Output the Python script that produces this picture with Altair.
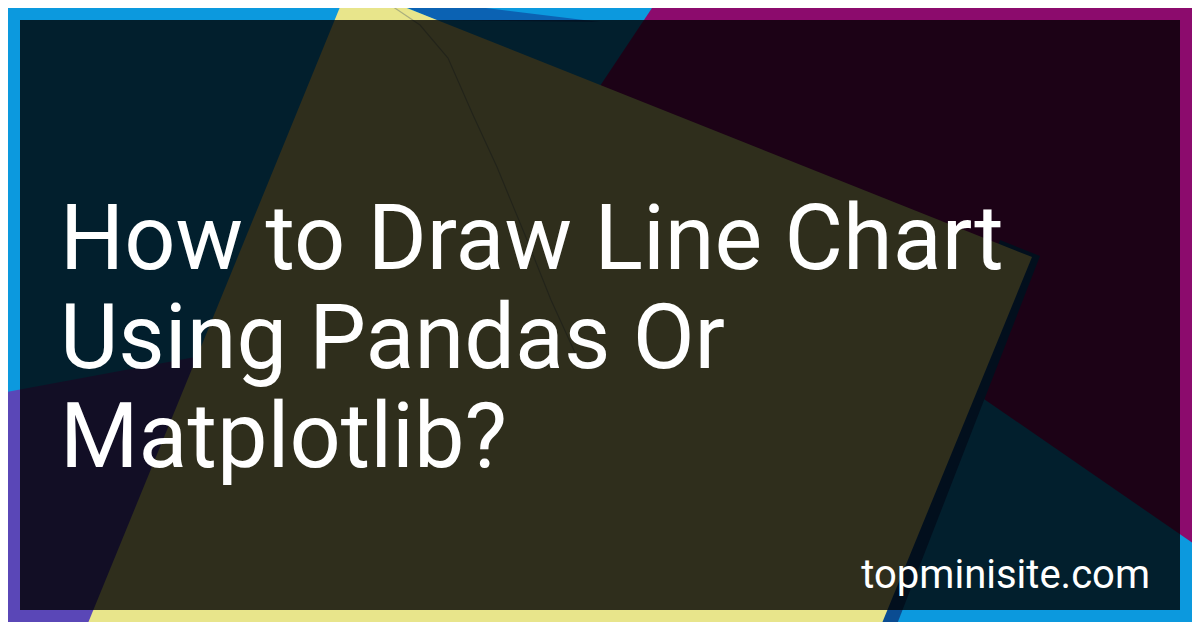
import altair as alt
import pandas as pd

# ---- colours of the paper sheets ----
BLUE = "#0c99de"
YELLOW = "#e8e58b"
MAGENTA = "#8c0b6d"
PURPLE = "#5a47b7"
SHADOW_BLUE = "#0a4c92"
TOP_SHADOW = "#0b62b3"

# ---- shapes (image pixel coordinates) ----
BACKGROUND = [[0, 0], [1200, 0], [1200, 630], [0, 630]]
PURPLE_SHEET = [[-10, 395], [320, 334], [320, 650], [-10, 650]]
MAGENTA_SHEET = [[578, 119], [700, -64], [1300, -64], [1300, 617]]
TOP_WEDGE = [[384, -2], [404, -2], [600, 22], [436, 20]]
YELLOW_SHADOW = [[1000, 240], [1040, 256], [887, 650], [850, 650]]
YELLOW_SHEET = [[349, -15], [1032, 257], [871, 650], [77, 650]]
FOLD_LINE = [[383, 0], [420, 25], [448, 58], [473, 115], [497, 167], [525, 235], [551, 300], [582, 368]]
OVERLAY = [[20, 20], [1180, 20], [1180, 610], [20, 610]]

TITLE_LINES = ["How to Draw Line Chart", "Using Pandas Or", "Matplotlib?"]
TITLE_ANCHOR = {"x": 60, "y": 269}
FOOTER = "topminisite.com"
FOOTER_ANCHOR = {"x": 1150, "y": 588}

W, H = 1184, 614
OFF = 8  # page margin


def poly(coords, name):
    ring = [list(p) for p in coords] + [list(coords[0])]
    return alt.Data(values=[{
        "type": "Feature",
        "properties": {"name": name},
        "geometry": {"type": "Polygon", "coordinates": [ring]},
    }])


def line(coords, name):
    return alt.Data(values=[{
        "type": "Feature",
        "properties": {"name": name},
        "geometry": {"type": "LineString", "coordinates": [list(p) for p in coords]},
    }])


def shape(data, **kw):
    return alt.Chart(data).mark_geoshape(**kw).project(
        type="identity", scale=1, translate=[-OFF, -OFF]
    )


layers = [
    shape(poly(BACKGROUND, "bg"), fill=BLUE, strokeWidth=0),
    shape(poly(PURPLE_SHEET, "purple"), fill=PURPLE, strokeWidth=0),
    shape(poly(MAGENTA_SHEET, "magenta"), fill=MAGENTA, strokeWidth=0),
    shape(poly(TOP_WEDGE, "wedge"), fill=TOP_SHADOW, strokeWidth=0),
    shape(poly(YELLOW_SHADOW, "shadow"), fill=SHADOW_BLUE, strokeWidth=0),
    shape(poly(YELLOW_SHEET, "yellow"), fill=YELLOW, strokeWidth=0),
    shape(line(FOLD_LINE, "fold"), filled=False, stroke="#3a4a66", strokeWidth=1.2, strokeOpacity=0.35),
    shape(poly(OVERLAY, "overlay"), fill="#000000", fillOpacity=0.8, strokeWidth=0),
]

xs = alt.Scale(domain=[OFF, OFF + W], nice=False, zero=False)
ys = alt.Scale(domain=[OFF, OFF + H], nice=False, zero=False, reverse=True)

title = alt.Chart(pd.DataFrame([TITLE_ANCHOR])).mark_text(
    text=TITLE_LINES, font="Roboto", fontSize=90, color="white",
    align="left", baseline="alphabetic", lineHeight=99,
).encode(
    x=alt.X("x:Q", scale=xs, axis=None),
    y=alt.Y("y:Q", scale=ys, axis=None),
)

footer = alt.Chart(pd.DataFrame([FOOTER_ANCHOR])).mark_text(
    text=FOOTER, font="Roboto", fontSize=40, color="white",
    align="right", baseline="alphabetic",
).encode(
    x=alt.X("x:Q", scale=xs, axis=None),
    y=alt.Y("y:Q", scale=ys, axis=None),
)

chart = alt.layer(*layers, title, footer).properties(
    width=W, height=H, padding=0, autosize=alt.AutoSizeParams(type="none"),
).configure_view(stroke=None).configure(background=BLUE)

chart.save("out.html", embed_options={"renderer": "svg", "actions": False})
